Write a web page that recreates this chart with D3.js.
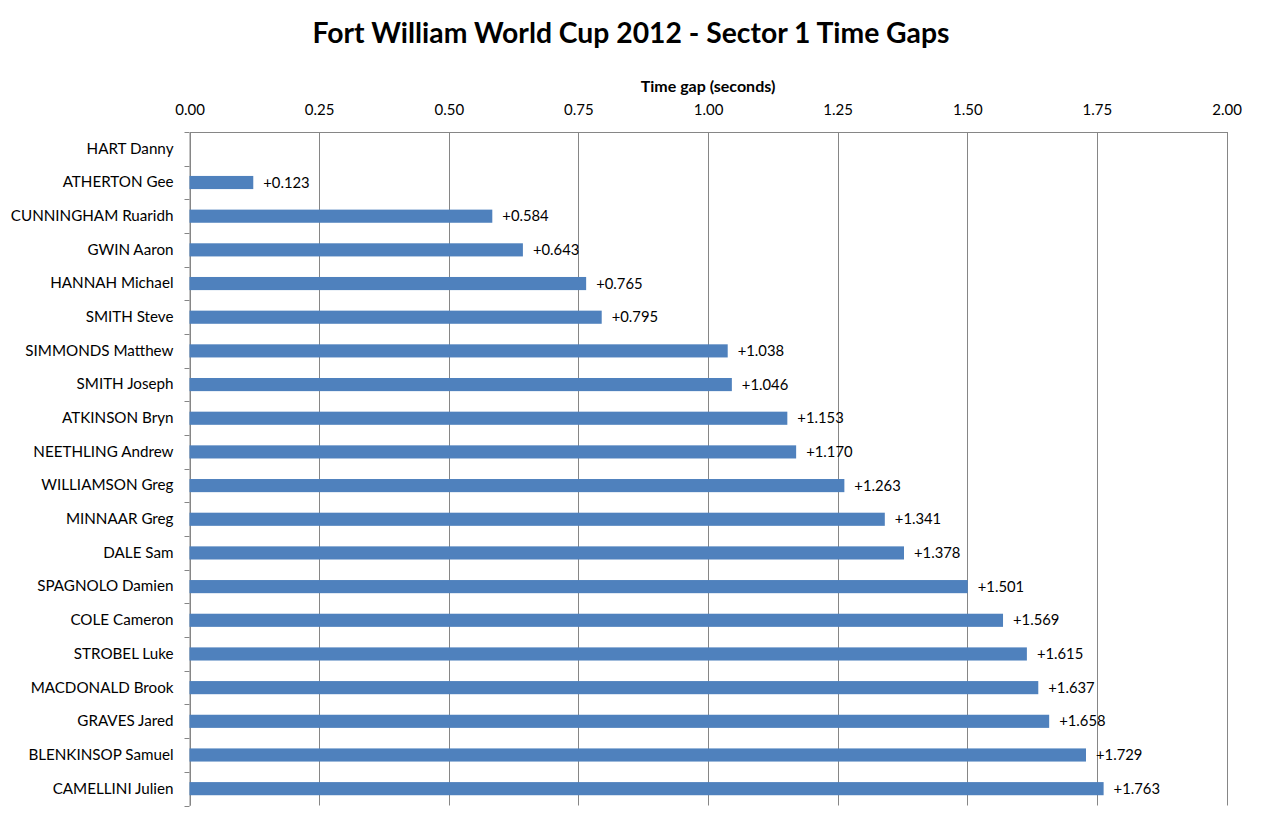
<!DOCTYPE html>
<html><head><meta charset="utf-8">
<script src="https://cdn.jsdelivr.net/npm/d3@7"></script>
<style>body{margin:0;background:#fff;} svg{display:block;}</style>
</head><body>
<svg id="c" width="1261" height="824"></svg>
<script>
const riders = ["HART Danny","ATHERTON Gee","CUNNINGHAM Ruaridh","GWIN Aaron","HANNAH Michael","SMITH Steve","SIMMONDS Matthew","SMITH Joseph","ATKINSON Bryn","NEETHLING Andrew","WILLIAMSON Greg","MINNAAR Greg","DALE Sam","SPAGNOLO Damien","COLE Cameron","STROBEL Luke","MACDONALD Brook","GRAVES Jared","BLENKINSOP Samuel","CAMELLINI Julien"];
const gaps = [0,0.123,0.584,0.643,0.765,0.795,1.038,1.046,1.153,1.170,1.263,1.341,1.378,1.501,1.569,1.615,1.637,1.658,1.729,1.763];
const tickValues = [0,0.25,0.5,0.75,1.0,1.25,1.5,1.75,2.0];
const titleText = "Fort William World Cup 2012 - Sector 1 Time Gaps";
const axisTitle = "Time gap (seconds)";

(function(){
const font = "Lato, 'Open Sans', sans-serif";
const svg = d3.select("#c");
const pL = 189.5, pR = 1226.5, pT = 132, pB = 805.5;
const x = d3.scaleLinear().domain([0,2]).range([pL,pR]);
const y = d3.scaleBand().domain(riders).range([pT,pB]).paddingInner(0.61).paddingOuter(0.305);
const yb = d3.scaleBand().domain(riders).range([pT,pB]);

svg.append("g").selectAll("line").data(tickValues).join("line")
  .attr("x1",d=>Math.round(x(d))+0.5).attr("x2",d=>Math.round(x(d))+0.5)
  .attr("y1",pT).attr("y2",pB)
  .attr("stroke","#868686").attr("stroke-width",1);

const xa = svg.append("g").attr("transform",`translate(0,${pT})`)
  .call(d3.axisTop(x).tickValues(tickValues).tickFormat(d3.format(".2f")).tickSize(0).tickPadding(17));
xa.select(".domain").attr("stroke","#868686");
xa.selectAll("text").attr("font-family",font).attr("font-size",15).attr("fill","#000");

const ya = svg.append("g").attr("transform",`translate(${pL},0)`)
  .call(d3.axisLeft(y).tickSize(0).tickPadding(16));
ya.select(".domain").attr("stroke","#868686");
ya.selectAll("text").attr("font-family",font).attr("font-size",15.2).attr("fill","#000");
svg.append("g").selectAll("line").data(riders.concat(["_end"])).join("line")
  .attr("x1",pL-5).attr("x2",pL)
  .attr("y1",(d,i)=>Math.round(pT + i*yb.step())+0.5).attr("y2",(d,i)=>Math.round(pT + i*yb.step())+0.5)
  .attr("stroke","#868686");

svg.append("g").selectAll("rect").data(riders).join("rect")
  .attr("x",x(0)).attr("y",d=>y(d))
  .attr("width",(d,i)=>x(gaps[i])-x(0)).attr("height",y.bandwidth())
  .attr("fill","#4F81BD");

svg.append("g").selectAll("text").data(riders.filter((d,i)=>gaps[i]>0)).join("text")
  .attr("x",d=>x(gaps[riders.indexOf(d)])+10)
  .attr("y",d=>y(d)+y.bandwidth()/2).attr("dy","0.35em")
  .attr("font-family",font).attr("font-size",14.8).attr("fill","#000")
  .text(d=>"+"+d3.format(".3f")(gaps[riders.indexOf(d)]));

svg.append("text").attr("x",631).attr("y",43).attr("text-anchor","middle")
  .attr("font-family",font).attr("font-weight","bold").attr("font-size",28.3).text(titleText);
svg.append("text").attr("x",(pL+pR)/2).attr("y",92).attr("text-anchor","middle")
  .attr("font-family",font).attr("font-weight","bold").attr("font-size",16).text(axisTitle);
})();
</script>
</body></html>
